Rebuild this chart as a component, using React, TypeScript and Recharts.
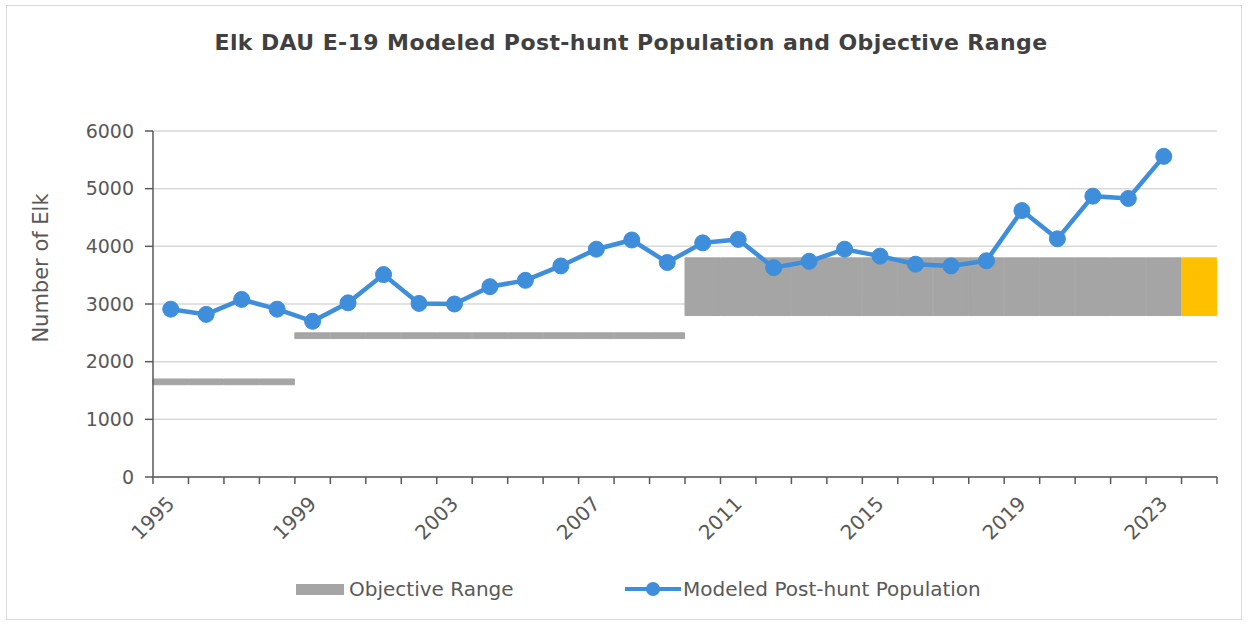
import React from 'react';
import { ComposedChart, Bar, Line, XAxis, YAxis, CartesianGrid, Cell, Label } from 'recharts';

const years = [
    '1995', '1996', '1997', '1998', '1999', '2000', '2001', '2002', '2003', '2004',
    '2005', '2006', '2007', '2008', '2009', '2010', '2011', '2012', '2013', '2014',
    '2015', '2016', '2017', '2018', '2019', '2020', '2021', '2022', '2023', '2024',
];

const population = [
    2910, 2820, 3080, 2910, 2700, 3020, 3510, 3010, 3000, 3300,
    3410, 3660, 3950, 4110, 3720, 4060, 4120, 3630, 3740, 3950,
    3830, 3690, 3660, 3750, 4620, 4130, 4870, 4830, 5560, null,
];

const objectiveLow = [
    1600, 1600, 1600, 1600, 2400, 2400, 2400, 2400, 2400, 2400,
    2400, 2400, 2400, 2400, 2400, 2800, 2800, 2800, 2800, 2800,
    2800, 2800, 2800, 2800, 2800, 2800, 2800, 2800, 2800, 2800,
];

const objectiveHigh = [
    1700, 1700, 1700, 1700, 2500, 2500, 2500, 2500, 2500, 2500,
    2500, 2500, 2500, 2500, 2500, 3800, 3800, 3800, 3800, 3800,
    3800, 3800, 3800, 3800, 3800, 3800, 3800, 3800, 3800, 3800,
];

const yTicks = [0, 1000, 2000, 3000, 4000, 5000, 6000];

const data = years.map((year, i) => ({
    year,
    population: population[i],
    objective: [objectiveLow[i], objectiveHigh[i]],
}));

const GRAY = '#A5A5A5';
const YELLOW = '#FFC000';
const BLUE = '#3E8EDB';
const TEXT = '#595959';
const FONT = '"DejaVu Sans", sans-serif';

// one tick mark per category boundary, a label every 4 years
const YearTick = (props: any) => {
    const { x, y, payload, index } = props;
    const half = 17.73;
    return (
        <g>
            <line x1={x - half} y1={y} x2={x - half} y2={y + 7} stroke={TEXT} strokeWidth={1.5} />
            {index === years.length - 1 && (
                <line x1={x + half} y1={y} x2={x + half} y2={y + 7} stroke={TEXT} strokeWidth={1.5} />
            )}
            {index % 4 === 0 && (
                <text
                    x={x + 5}
                    y={y + 28}
                    textAnchor="end"
                    fill={TEXT}
                    fontSize={20}
                    fontFamily={FONT}
                    transform={`rotate(-45, ${x + 5}, ${y + 28})`}
                >
                    {payload.value}
                </text>
            )}
        </g>
    );
};

const App = () => {
    return (
        <div style={{ position: 'absolute', left: 0, top: 0, width: 1250, height: 627, background: '#fff' }}>
            <div style={{ position: 'absolute', left: 6, top: 5, width: 1234, height: 613, border: '1px solid #D9D9D9' }} />
            <div style={{ position: 'absolute', left: 0, top: 30, width: 1262, textAlign: 'center', fontFamily: FONT, fontWeight: 'bold', fontSize: 22, letterSpacing: 0.4, color: '#404040' }}>
                Elk DAU E-19 Modeled Post-hunt Population and Objective Range
            </div>
            <div style={{ position: 'absolute', left: 0, top: 0 }}>
                <ComposedChart width={1250} height={627} data={data} barCategoryGap={0} margin={{ top: 131, right: 33, bottom: 90, left: 0 }}>
                    <CartesianGrid vertical={false} stroke="#D9D9D9" strokeWidth={1.5} />
                    <XAxis dataKey="year" interval={0} tick={<YearTick />} tickLine={false} tickSize={0} tickMargin={0} height={60} axisLine={{ stroke: TEXT, strokeWidth: 1.5 }} />
                    <YAxis
                        domain={[0, 6000]}
                        ticks={yTicks}
                        width={153}
                        tickSize={8}
                        tickMargin={11}
                        axisLine={{ stroke: TEXT, strokeWidth: 1.5 }}
                        tickLine={{ stroke: TEXT, strokeWidth: 1.5 }}
                        tick={{ fill: TEXT, fontSize: 19, fontFamily: FONT }}
                    >
                        <Label
                            content={() => (
                                <text x={41} y={268} transform="rotate(-90, 41, 268)" textAnchor="middle" dominantBaseline="central" fill={TEXT} fontSize={21} fontFamily={FONT}>
                                    Number of Elk
                                </text>
                            )}
                        />
                    </YAxis>
                    <Bar dataKey="objective" name="Objective Range" isAnimationActive={false}>
                        {data.map((d, i) => {
                            const c = i === years.length - 1 ? YELLOW : GRAY;
                            return <Cell key={`cell-${i}`} fill={c} stroke={c} strokeWidth={1} />;
                        })}
                    </Bar>
                    <Line
                        dataKey="population"
                        name="Modeled Post-hunt Population"
                        stroke={BLUE}
                        strokeWidth={4.5}
                        dot={{ r: 8, fill: BLUE, stroke: BLUE, strokeWidth: 1 }}
                        isAnimationActive={false}
                    />
                </ComposedChart>
            </div>
            <div style={{ position: 'absolute', left: 296, top: 577, display: 'flex', alignItems: 'center', fontFamily: FONT, fontSize: 20, color: TEXT }}>
                <span style={{ display: 'inline-block', width: 48, height: 11, background: GRAY, marginRight: 5 }} />
                <span>Objective Range</span>
            </div>
            <div style={{ position: 'absolute', left: 625, top: 577, display: 'flex', alignItems: 'center', fontFamily: FONT, fontSize: 20, color: TEXT }}>
                <svg width={56} height={20} style={{ marginRight: 2 }}>
                    <line x1={0} y1={10} x2={56} y2={10} stroke={BLUE} strokeWidth={4} />
                    <circle cx={28} cy={10} r={7} fill={BLUE} />
                </svg>
                <span>Modeled Post-hunt Population</span>
            </div>
        </div>
    );
};

export default App;
